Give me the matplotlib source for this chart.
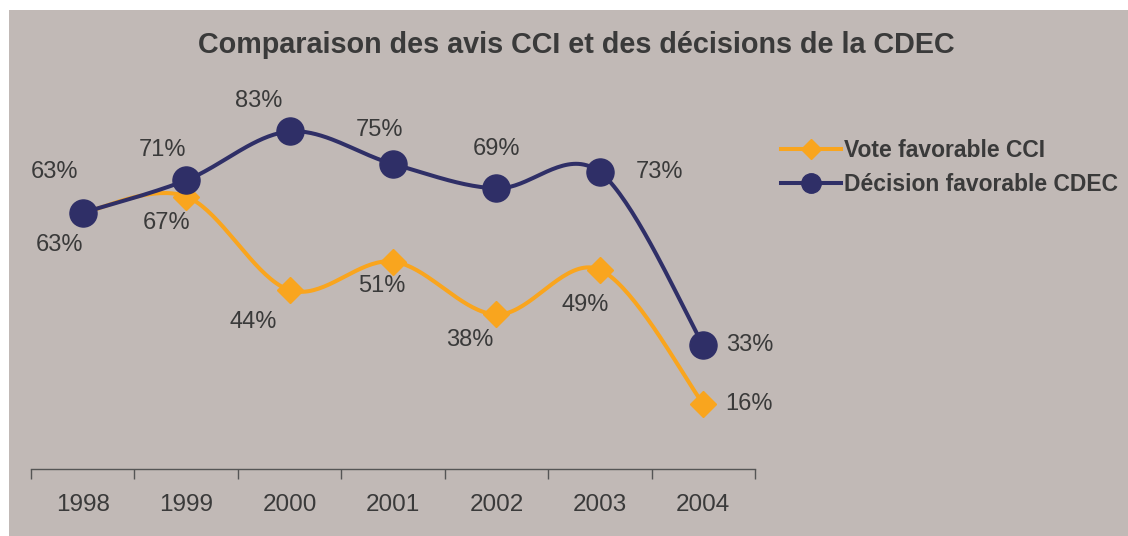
import numpy as np
import matplotlib
matplotlib.use("Agg")
import matplotlib.pyplot as plt
from matplotlib.patches import Rectangle

plt.rcParams['font.family'] = ['Liberation Sans', 'DejaVu Sans']

years = ['1998', '1999', '2000', '2001', '2002', '2003', '2004']
cci_values = [63, 67, 44, 51, 38, 49, 16]
cdec_values = [63, 71, 83, 75, 69, 73, 30.5]
cci_labels = ['63%', '67%', '44%', '51%', '38%', '49%', '16%']
cdec_labels = ['63%', '71%', '83%', '75%', '69%', '73%', '33%']

# décalages des étiquettes (pixels)
cci_offsets = [(-23, -32), (-20, -26), (-36, -32), (-11, -24), (-27, -26), (-15, -35), (46, 0)]
cdec_offsets = [(-28, 41), (-24, 30), (-31, 30), (-13, 34), (0, 39), (60, 0), (46, 0)]

orange = '#F9A51E'
navy = '#2F2F67'
text_col = '#3A3A3A'
bg = '#C1B9B6'


def smooth(x, y, n=40):
    # courbe lissée type Excel (Catmull-Rom)
    x = np.asarray(x, float)
    y = np.asarray(y, float)
    px = np.concatenate([[x[0]], x, [x[-1]]])
    py = np.concatenate([[y[0]], y, [y[-1]]])
    xs, ys = [], []
    for i in range(1, len(px) - 2):
        p0 = np.array([px[i - 1], py[i - 1]])
        p1 = np.array([px[i], py[i]])
        p2 = np.array([px[i + 1], py[i + 1]])
        p3 = np.array([px[i + 2], py[i + 2]])
        c1 = p1 + (p2 - p0) / 6
        c2 = p2 - (p3 - p1) / 6
        t = np.linspace(0, 1, n)[:, None]
        pts = (1 - t) ** 3 * p1 + 3 * (1 - t) ** 2 * t * c1 + 3 * (1 - t) * t ** 2 * c2 + t ** 3 * p2
        xs.append(pts[:, 0])
        ys.append(pts[:, 1])
    return np.concatenate(xs), np.concatenate(ys)


fig = plt.figure(figsize=(11.28, 5.36), dpi=100)
fig.patch.set_facecolor('white')
fig.patches.append(Rectangle((9 / 1128, 0), 1, 1 - 10 / 536, transform=fig.transFigure,
                             facecolor=bg, edgecolor='none', zorder=-10))

ax = fig.add_axes([31 / 1128, 67 / 536, (755 - 31) / 1128, 366 / 536])
ax.set_facecolor('none')
ax.set_zorder(2)

x = np.arange(len(years))

sx, sy = smooth(x, cci_values)
ax.plot(sx, sy, color=orange, lw=2.9, zorder=2, solid_capstyle='round')
ax.plot(x, cci_values, ls='none', marker='D', ms=13.5, color=orange, zorder=3)

sx, sy = smooth(x, cdec_values)
ax.plot(sx, sy, color=navy, lw=2.9, zorder=4, solid_capstyle='round')
ax.plot(x, cdec_values, ls='none', marker='o', ms=19.5, color=navy, zorder=5)

for xi, v, lab, off in zip(x, cci_values, cci_labels, cci_offsets):
    ax.annotate(lab, (xi, v), xytext=off, textcoords='offset pixels',
                ha='center', va='center', fontsize=17, color=text_col)
for xi, v, lab, off in zip(x, cdec_values, cdec_labels, cdec_offsets):
    ax.annotate(lab, (xi, v), xytext=off, textcoords='offset pixels',
                ha='center', va='center', fontsize=17, color=text_col)

ax.set_xlim(-0.5, len(years) - 0.5)
ax.set_ylim(0, 90)
ax.set_xticks(np.arange(-0.5, len(years)))
ax.set_xticklabels([])
ax.set_xticks(x, minor=True)
ax.set_xticklabels(years, minor=True)
ax.tick_params(axis='x', which='major', length=7, width=1, color='#555555', direction='out')
ax.tick_params(axis='x', which='minor', length=0, pad=18, labelsize=17.5, labelcolor=text_col)
ax.set_yticks([])
for s in ['top', 'left', 'right']:
    ax.spines[s].set_visible(False)
ax.spines['bottom'].set_color('#555555')
ax.spines['bottom'].set_linewidth(1)

fig.text(576 / 1128, 1 - 45 / 536, 'Comparaison des avis CCI et des décisions de la CDEC',
         ha='center', va='center', fontsize=20.7, fontweight='bold', color=text_col)

h1, = ax.plot([], [], color=orange, lw=2.9, marker='D', ms=10)
h2, = ax.plot([], [], color=navy, lw=2.9, marker='o', ms=14)
fig.legend([h1, h2], ['Vote favorable CCI', 'Décision favorable CDEC'],
           loc='upper left', bbox_to_anchor=(760 / 1128, 1 - 118 / 536),
           frameon=False, handlelength=2.65, handletextpad=0.12,
           labelspacing=0.5, labelcolor=text_col, prop={'weight': 'bold', 'size': 16.5})

fig.savefig('out.png', dpi=100, facecolor=fig.get_facecolor())
